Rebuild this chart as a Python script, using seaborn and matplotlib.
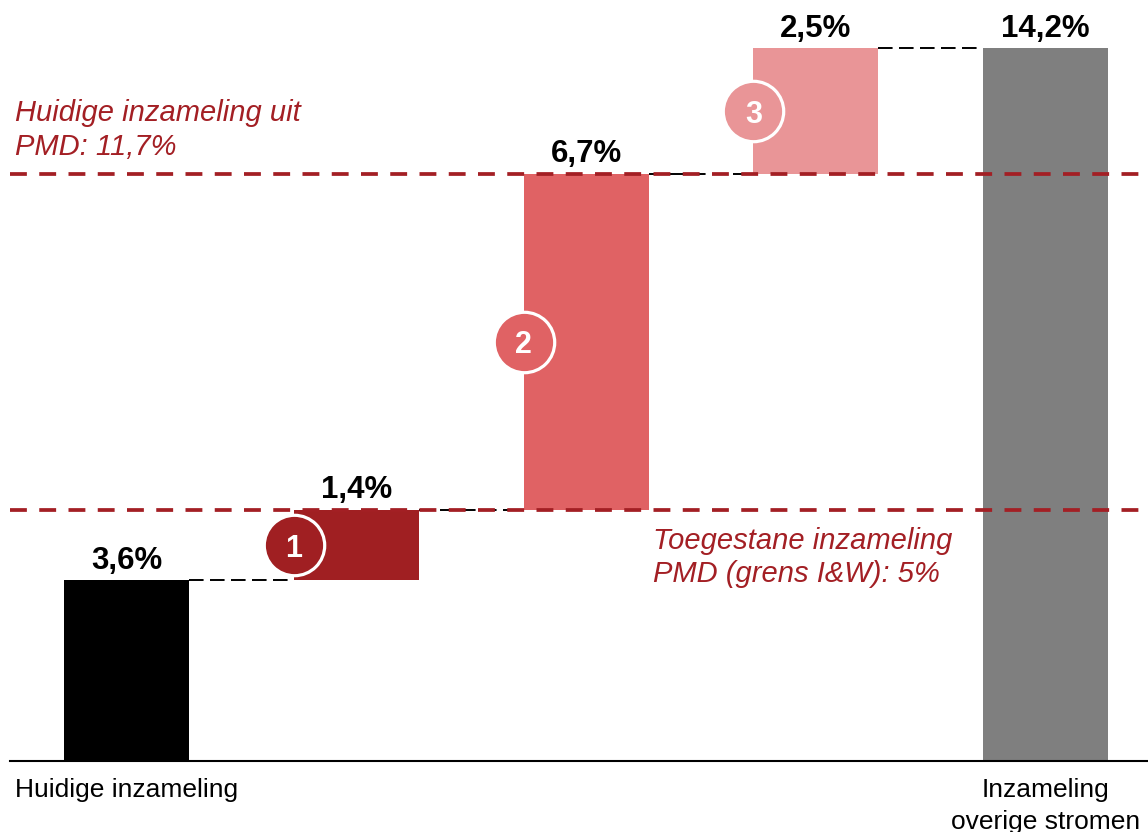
import numpy as np
import pandas as pd
import matplotlib
matplotlib.use("Agg")
import matplotlib.pyplot as plt
import seaborn as sns

# Waterfall: current collection, three extra steps, final total
steps = ["start", "s1", "s2", "s3", "total"]
values = [3.6, 1.4, 6.7, 2.5, 14.2]
is_total = [True, False, False, False, True]
value_labels = ["3,6%", "1,4%", "6,7%", "2,5%", "14,2%"]
step_numbers = ["", "1", "2", "3", ""]
tick_labels = ["Huidige inzameling", "", "", "", "Inzameling\noverige stromen"]
bar_colors = ["#000000", "#A01F22", "#E06264", "#E99597", "#7F7F7F"]

# Reference levels
ref_levels = [11.7, 5.0]
ref_texts = ["Huidige inzameling uit\nPMD: 11,7%", "Toegestane inzameling\nPMD (grens I&W): 5%"]

RED = "#A31F24"
FONT = "Liberation Sans"

# Bases of the floating bars from the running sum
bases = []
running = 0.0
for v, tot in zip(values, is_total):
    if tot:
        bases.append(0.0)
        running = v
    else:
        bases.append(running)
        running += v
tops = [b + v for b, v in zip(bases, values)]

df = pd.DataFrame({"step": steps, "height": values, "base": bases})

sns.set_style("white")
plt.rcParams["font.family"] = [FONT, "DejaVu Sans"]
plt.rcParams["text.color"] = "black"
plt.rcParams["xtick.color"] = "black"
plt.rcParams["xtick.labelcolor"] = "black"

W, H = 1148, 832
fig = plt.figure(figsize=(W / 100, H / 100), dpi=100)
ax = fig.add_axes([10 / W, 71 / H, 1138 / W, 761 / H])

bar_w = 0.544
sns.barplot(data=df, x="step", y="height", order=steps, bottom=df["base"].values,
            color="black", width=bar_w, errorbar=None, ax=ax, zorder=2,
            linewidth=0, saturation=1)
for patch, c in zip(ax.patches, bar_colors):
    patch.set_facecolor(c)
    patch.set_edgecolor("none")

ax.set_xlim(-0.507, 4.446)
ax.set_ylim(0, 15.165)

# Reference lines across the chart
for lvl in ref_levels:
    ax.axhline(lvl, color=RED, lw=2.7, dashes=(4.5, 3.3), zorder=4)

# Connectors between consecutive bars
for i in range(len(values) - 1):
    ax.plot([i + bar_w / 2, i + 1 - bar_w / 2], [tops[i], tops[i]],
            color="black", lw=1.4, dashes=(7.5, 3.3), zorder=3)

# Value labels above each bar
for i, lab in enumerate(value_labels):
    ax.annotate(lab, (i, tops[i]), xytext=(0, 8.5), textcoords="offset points",
                ha="center", va="baseline", fontsize=22.5, fontweight="bold",
                color="black", zorder=6)

# Numbered markers on the left edge of the step bars
for i, num in enumerate(step_numbers):
    if not num:
        continue
    cx = i - bar_w / 2
    cy = bases[i] + values[i] / 2
    ax.scatter([cx], [cy], s=43.5 ** 2, color=bar_colors[i], edgecolor="white",
               linewidth=2.3, zorder=5, clip_on=False)
    ax.text(cx, cy, num, ha="center", va="center_baseline", fontsize=22,
            fontweight="bold", color="white", zorder=6)

# Reference line captions (anchored on the baseline of the last line)
ax.text(-0.485, 12.08, ref_texts[0], ha="left", va="baseline", fontsize=21,
        fontstyle="italic", color=RED, linespacing=1.25)
ax.text(2.292, 3.567, ref_texts[1], ha="left", va="baseline", fontsize=21,
        fontstyle="italic", color=RED, linespacing=1.25)

# Axis styling
ax.set_xticks(range(len(steps)))
ax.set_xticklabels(tick_labels, fontsize=19, linespacing=1.45, color="black")
ax.tick_params(axis="x", length=0, pad=12)
ax.set_yticks([])
ax.set_xlabel("")
ax.set_ylabel("")
for side in ["left", "right", "top"]:
    ax.spines[side].set_visible(False)
ax.spines["bottom"].set_color("black")
ax.spines["bottom"].set_linewidth(1.5)
ax.set_facecolor("white")
ax.grid(False)

fig.savefig("out.png", dpi=100, facecolor="white")
